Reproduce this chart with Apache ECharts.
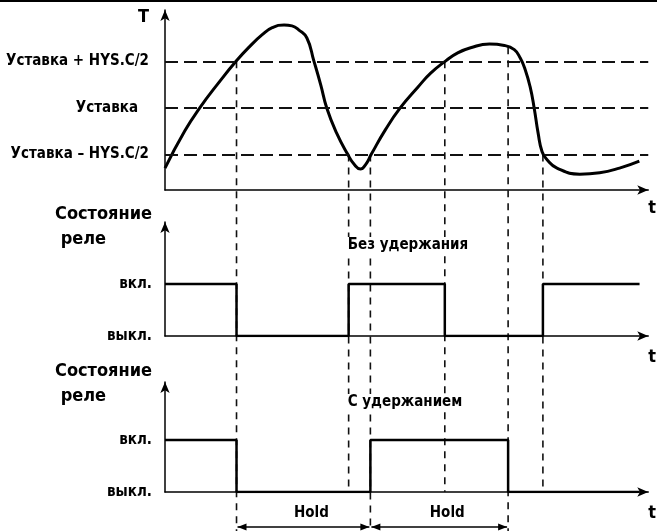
<!DOCTYPE html>
<html>
<head>
<meta charset="utf-8">
<script src="https://cdn.jsdelivr.net/npm/echarts@6/dist/echarts.min.js"></script>
<style>html,body{margin:0;padding:0;background:#fff}#chart{width:657px;height:531px}</style>
</head>
<body>
<div id="chart"></div>
<script>
// time runs 0..100, temperature is measured in HYS.C/2 steps from the setpoint
var curveTime = [0, 4.11, 7.19, 10.88, 14.78, 17.45, 20.12, 22.18, 24.64, 26.28, 27.72, 29.36,
    30.8, 32.24, 33.47, 35.52, 37.78, 39.22, 40.45, 41.48, 42.71, 45.59, 48.67, 52.36, 55.03, 58.11,
    60.57, 63.24, 67.15, 70.23, 72.28, 73.51, 74.54, 75.56, 76.39, 77.21, 78.03, 79.06, 81.11,
    85.83, 89.94, 94.05, 98.15];
var curveTemp = [-1.29, -0.49, 0, 0.51, 1.01, 1.31, 1.57, 1.72, 1.78, 1.76, 1.67, 1.5,
    1.01, 0.49, 0, -0.54, -0.99, -1.22, -1.31, -1.22, -0.99, -0.47, 0, 0.45, 0.75, 1.01,
    1.18, 1.29, 1.37, 1.34, 1.25, 1.07, 0.82, 0.45, 0, -0.54, -0.94, -1.11, -1.29,
    -1.42, -1.39, -1.29, -1.14];

var levelValues = [1, 0, -1];
var levelLabels = ['Уставка + HYS.C/2', 'Уставка', 'Уставка – HYS.C/2'];

var relay1Time = [0, 14.8, 38.0, 57.9, 78.2, 98.2];
var relay1State = [1, 0, 1, 0, 1, 1];
var relay2Time = [0, 14.8, 42.5, 71.0, 98.2];
var relay2State = [1, 0, 1, 0, 0];
var stateLabels = ['выкл.', 'вкл.'];

// dashed guide lines: time, temperature where they start, whether they run to the bottom
var guideTime = [14.8, 38.0, 42.5, 57.9, 71.0, 78.2];
var guideFrom = [1, -1, -1, 1, 1.3, -1];
var guideToEnd = [true, false, true, false, true, false];

var holdStart = [14.8, 42.5];
var holdEnd = [42.5, 71.0];

var font = "'Liberation Sans Narrow', 'DejaVu Sans Condensed', 'Arial Narrow', sans-serif";
var ink = '#000';

function zip(a, b) {
    return a.map(function (v, i) { return [v, b[i]]; });
}

function timeAxis(i, pad) {
    return {
        type: 'value', gridIndex: i, min: 0, max: 100,
        axisLine: {onZero: false, symbol: ['none', 'arrow'], symbolSize: [7, 11], lineStyle: {color: ink, width: 1.5}},
        axisTick: {show: false}, axisLabel: {show: false}, splitLine: {show: false},
        name: 't', nameLocation: 'end', nameGap: 0,
        nameTextStyle: {fontSize: 18, fontWeight: 'bold', fontFamily: font, color: ink,
            align: 'left', verticalAlign: 'top', padding: [pad, 0, 0, 0]}
    };
}

function stateAxis(i, max) {
    return {
        type: 'value', gridIndex: i, min: 0, max: max, interval: 1,
        axisLine: {symbol: ['none', 'arrow'], symbolSize: [7, 11], lineStyle: {color: ink, width: 1.5}},
        axisTick: {show: false}, splitLine: {show: false},
        axisLabel: {
            margin: 13, fontSize: 15, fontWeight: 'bold', fontFamily: font, color: ink,
            formatter: function (v) { return stateLabels[v] || ''; }
        }
    };
}

var bold15 = {fontSize: 15, fontWeight: 'bold', fontFamily: font, color: ink};
var relayName = {fontSize: 18, fontWeight: 'bold', fontFamily: font, color: ink, lineHeight: 25};

var option = {
    animation: false,
    backgroundColor: '#fff',
    title: [
        {text: 'Состояние\n реле', left: 55, top: 202, padding: 0, textStyle: relayName},
        {text: 'Состояние\n реле', left: 55, top: 359, padding: 0, textStyle: relayName},
        {text: 'Без удержания', left: 405, top: 237, textAlign: 'center', backgroundColor: '#fff',
            padding: [1, 3], textStyle: bold15},
        {text: 'С удержанием', left: 402, top: 394, textAlign: 'center', backgroundColor: '#fff',
            padding: [1, 3], textStyle: bold15}
    ],
    grid: [
        {left: 165, right: 5, top: 10, bottom: 341},
        {left: 165, right: 5, top: 222, bottom: 195},
        {left: 165, right: 5, top: 382, bottom: 39}
    ],
    xAxis: [timeAxis(0, 9), timeAxis(1, 12), timeAxis(2, 12)],
    yAxis: [
        {
            type: 'value', gridIndex: 0, min: -1.76, max: 2.1,
            axisLine: {symbol: ['none', 'arrow'], symbolSize: [7, 11], lineStyle: {color: ink, width: 1.5}},
            axisTick: {show: false}, axisLabel: {show: false}, splitLine: {show: false},
            name: 'T', nameLocation: 'end', nameGap: -7,
            nameTextStyle: {fontSize: 18, fontWeight: 'bold', fontFamily: font, color: ink,
                align: 'right', verticalAlign: 'middle', padding: [0, 16, 0, 0]}
        },
        stateAxis(1, 2.19),
        stateAxis(2, 2.12)
    ],
    series: [
        {
            type: 'line', xAxisIndex: 0, yAxisIndex: 0,
            data: zip(curveTime, curveTemp),
            smooth: 0.5, symbol: 'none',
            lineStyle: {color: ink, width: 3},
            markLine: {
                silent: true, symbol: 'none',
                lineStyle: {color: '#111', width: 1.8, type: [13, 6]},
                label: {position: 'start', fontSize: 15, fontWeight: 'bold', fontFamily: font, color: ink},
                data: levelValues.map(function (v, i) {
                    return {yAxis: v, label: {formatter: levelLabels[i], distance: i === 1 ? 27 : 16}};
                })
            }
        },
        {
            type: 'line', xAxisIndex: 1, yAxisIndex: 1, step: 'end',
            data: zip(relay1Time, relay1State), symbol: 'none',
            lineStyle: {color: ink, width: 2.5}
        },
        {
            type: 'line', xAxisIndex: 2, yAxisIndex: 2, step: 'end',
            data: zip(relay2Time, relay2State), symbol: 'none',
            lineStyle: {color: ink, width: 2.5}
        }
    ]
};

var chart = echarts.init(document.getElementById('chart'));
chart.setOption(option);

// guide lines and Hold arrows, placed through the axes' own scales
var graphics = [{type: 'rect', shape: {x: 0, y: 0, width: chart.getWidth(), height: 2}, style: {fill: '#000'}}];

guideTime.forEach(function (t, i) {
    var top = chart.convertToPixel({gridIndex: 0}, [t, guideFrom[i]]);
    var bottom = guideToEnd[i] ? chart.getHeight() : chart.convertToPixel({gridIndex: 2}, [t, 0])[1];
    graphics.push({
        type: 'line', z: 1,
        shape: {x1: top[0], y1: top[1], x2: top[0], y2: bottom},
        style: {stroke: '#111', lineWidth: 1.6, lineDash: [7, 6]}
    });
});

var holdY = chart.convertToPixel({gridIndex: 2}, [0, 0])[1] + 35;
holdStart.forEach(function (t, i) {
    var x1 = chart.convertToPixel({gridIndex: 2}, [t, 0])[0] + 1;
    var x2 = chart.convertToPixel({gridIndex: 2}, [holdEnd[i], 0])[0] - 1;
    graphics.push({
        type: 'line', z: 3,
        shape: {x1: x1, y1: holdY, x2: x2, y2: holdY},
        style: {stroke: ink, lineWidth: 1.5}
    });
    graphics.push({
        type: 'polygon', z: 3,
        shape: {points: [[x1, holdY], [x1 + 9, holdY - 3.5], [x1 + 9, holdY + 3.5]]},
        style: {fill: ink}
    });
    graphics.push({
        type: 'polygon', z: 3,
        shape: {points: [[x2, holdY], [x2 - 9, holdY - 3.5], [x2 - 9, holdY + 3.5]]},
        style: {fill: ink}
    });
    graphics.push({
        type: 'text', z: 3,
        x: (x1 + x2) / 2 + 8, y: holdY - 14,
        style: {text: 'Hold', font: 'bold 15px ' + font, fill: ink, align: 'center', verticalAlign: 'middle'}
    });
});

chart.setOption({graphic: graphics});
</script>
</body>
</html>
